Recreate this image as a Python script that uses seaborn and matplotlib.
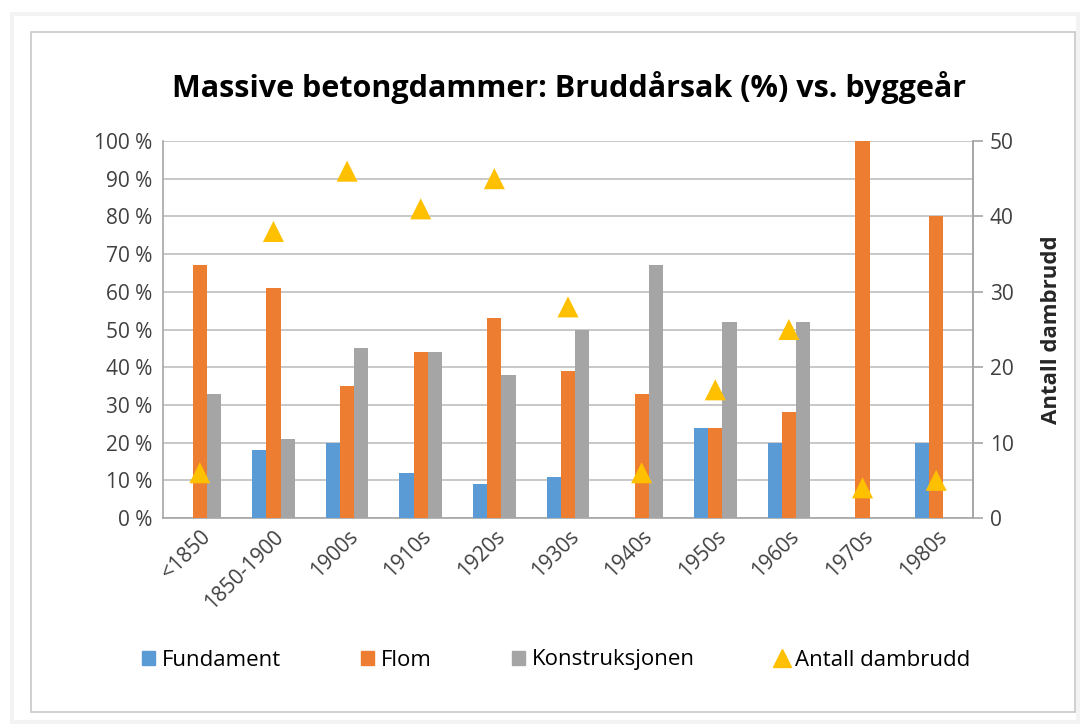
import numpy as np
import pandas as pd
import matplotlib.pyplot as plt
import matplotlib.patches as mpatches
from matplotlib.lines import Line2D
import seaborn as sns

# data
categories = ['<1850', '1850-1900', '1900s', '1910s', '1920s', '1930s',
              '1940s', '1950s', '1960s', '1970s', '1980s']
fundament = [0, 18, 20, 12, 9, 11, 0, 24, 20, 0, 20]
flom = [67, 61, 35, 44, 53, 39, 33, 24, 28, 100, 80]
konstruksjon = [33, 21, 45, 44, 38, 50, 67, 52, 52, 0, 0]
antall = [6, 38, 46, 41, 45, 28, 6, 17, 25, 4, 5]

series_names = ['Fundament', 'Flom', 'Konstruksjonen']
colors = ['#5B9BD5', '#ED7D31', '#A5A5A5']
marker_color = '#FFC000'
pct_ticks = list(range(0, 101, 10))
count_ticks = list(range(0, 51, 10))

df = pd.DataFrame({
    'periode': categories * 3,
    'andel': fundament + flom + konstruksjon,
    'aarsak': [s for s in series_names for _ in categories],
})

sns.set_theme(style='white')
plt.rcParams['font.family'] = ['Open Sans', 'DejaVu Sans']

fig = plt.figure(figsize=(10.82, 7.25), dpi=100)

# outer panel shadow and frame
fig.patches.append(mpatches.Rectangle((12 / 1082, 1 - 722 / 725), 1066 / 1082, 708 / 725,
                                      transform=fig.transFigure, facecolor='white',
                                      edgecolor='#f3f3f3', lw=3, zorder=-3))
fig.patches.append(mpatches.Rectangle((31 / 1082, 1 - 712 / 725), 1044 / 1082, 680 / 725,
                                      transform=fig.transFigure, facecolor='white',
                                      edgecolor='#c8c8c8', lw=1.2, zorder=-2))

ax = fig.add_axes([163 / 1082, 1 - 518 / 725, 810 / 1082, 377 / 725])
ax.patch.set_alpha(0)

sns.barplot(data=df, x='periode', y='andel', hue='aarsak', palette=colors,
            width=0.58, gap=0, saturation=1, linewidth=0, edgecolor='none',
            ax=ax, legend=False, zorder=3)

ax.set_ylim(0, 100)
ax.set_yticks(pct_ticks)
ax.set_yticklabels([f'{v} %' for v in pct_ticks])
ax.set_xlim(-0.5, len(categories) - 0.5)
ax.grid(axis='y', color='#bfbfbf', lw=1.2, zorder=0)
ax.set_xlabel('')
ax.set_ylabel('')
ax.tick_params(axis='y', labelsize=15, colors='#404040', length=0, pad=8)
ax.tick_params(axis='x', labelsize=15, colors='#404040', length=0, pad=6)
plt.setp(ax.get_xticklabels(), rotation=45, ha='right', rotation_mode='anchor')
for s in ['left', 'right', 'bottom']:
    ax.spines[s].set_color('#a6a6a6')
    ax.spines[s].set_linewidth(1.2)
ax.spines['top'].set_visible(False)

ax2 = ax.twinx()
sns.scatterplot(x=np.arange(len(categories)), y=antall, marker='^', s=230,
                color=marker_color, edgecolor='none', ax=ax2, zorder=5, clip_on=False)
ax2.set_ylim(0, 50)
ax2.set_yticks(count_ticks)
ax2.tick_params(axis='y', labelsize=15, colors='#404040', length=7, width=1.2,
                pad=5, direction='out')
ax2.tick_params(axis='y', color='#a6a6a6')
ax2.set_ylabel('Antall dambrudd', fontsize=16, fontweight='bold', labelpad=20)
for s in ['left', 'top', 'bottom']:
    ax2.spines[s].set_visible(False)
ax2.spines['right'].set_color('#a6a6a6')
ax2.spines['right'].set_linewidth(1.2)

fig.text(569 / 1082, 1 - 88 / 725, 'Massive betongdammer: Bruddårsak (%) vs. byggeår',
         ha='center', va='center', fontsize=22, fontweight='bold', color='black')

handles = [mpatches.Patch(color=c) for c in colors]
handles.append(Line2D([], [], marker='^', color=marker_color, linestyle='none', markersize=13))
fig.legend(handles, series_names + ['Antall dambrudd'], loc='center',
           bbox_to_anchor=(556 / 1082, 1 - 660 / 725), ncol=4, frameon=False,
           fontsize=16, handlelength=0.6, handleheight=0.6, handletextpad=0.3,
           columnspacing=3.6, labelcolor='black')

fig.savefig('out.png', dpi=100)
